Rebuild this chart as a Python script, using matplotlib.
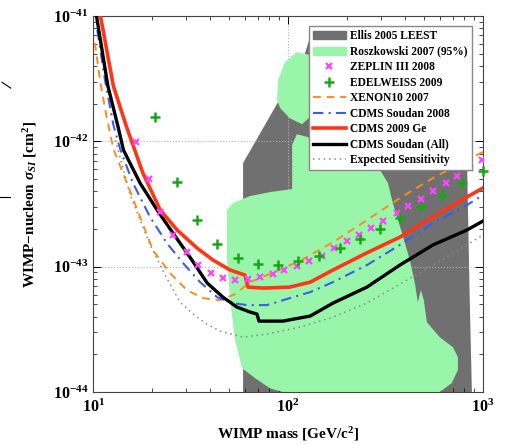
import matplotlib
matplotlib.use("Agg")
import matplotlib.pyplot as plt
from matplotlib.lines import Line2D
from matplotlib.patches import Patch

plt.rcParams['font.family'] = ['Liberation Serif', 'DejaVu Serif']
plt.rcParams['font.weight'] = 'bold'
plt.rcParams['mathtext.fontset'] = 'custom'
plt.rcParams['mathtext.rm'] = 'Liberation Serif:bold'
plt.rcParams['mathtext.it'] = 'Liberation Serif:italic:bold'
plt.rcParams['mathtext.bf'] = 'Liberation Serif:bold'

# Ellis 2005 LEEST region (mass GeV, cross section cm^2)
ellis_m = [58.8, 58.8, 88.9, 115, 133, 809, 828, 857, 879]
ellis_s = [1e-44, 6.71e-43, 2.06e-42, 3.71e-42, 7.7e-42, 7.7e-42, 8.22e-43, 5.41e-44, 1e-44]

# Roszkowski 2007 (95%) - main body and upper lobe
rosz_m = [111, 105, 105, 80.9, 63.8, 52.2, 48.6, 48.6, 50.5, 53.5, 58.1, 67.8, 80.9, 94.2,
          601, 693, 745, 745, 702, 601, 516, 498, 481, 464, 448, 422, 385, 345, 326, 297,
          226, 196, 164, 137, 127]
rosz_s = [1.14e-42, 9.33e-43, 4.16e-43, 3.94e-43, 3.66e-43, 3.22e-43, 2.83e-43, 1.13e-43,
          5.41e-44, 2.59e-44, 1.55e-44, 1.29e-44, 1.07e-44, 1e-44,
          1e-44, 1.18e-44, 1.50e-44, 1.90e-44, 2.28e-44, 2.74e-44, 3.61e-44, 5.41e-44,
          6.50e-44, 5.21e-44, 7.40e-44, 1.13e-43, 1.85e-43, 3.22e-43, 4.65e-43, 5.90e-43,
          7.78e-43, 8.22e-43, 7.78e-43, 8.53e-43, 1.08e-42]
lobe_m = [87.9, 88.9, 96.6, 111, 130, 137, 133, 118, 102, 91]
lobe_s = [2.14e-42, 3.08e-42, 4.30e-42, 5.16e-42, 4.88e-42, 3.08e-42, 1.62e-42, 1.37e-42,
          1.53e-42, 1.85e-42]

# ZEPLIN III 2008
zep_m = [16.6, 19.4, 22.1, 25.7, 30.3, 34.5, 40.3, 46.4, 53.5, 62.4, 71.8, 83.8, 95.3, 111,
         128, 149, 172, 201, 231, 267, 307, 362, 413, 481, 554, 646, 736, 857, 988]
zep_s = [9.86e-43, 5.00e-43, 2.73e-43, 1.79e-43, 1.31e-43, 1.03e-43, 8.89e-44, 8.11e-44,
         7.82e-44, 7.96e-44, 8.26e-44, 8.73e-44, 9.40e-44, 1.01e-43, 1.11e-43, 1.22e-43,
         1.41e-43, 1.60e-43, 1.79e-43, 2.03e-43, 2.31e-43, 2.68e-43, 3.05e-43, 3.47e-43,
         4.01e-43, 4.65e-43, 5.28e-43, 6.12e-43, 7.10e-43]

# EDELWEISS 2009
edw_m = [20.8, 27.0, 34.1, 43.3, 55.4, 70.1, 88.9, 113, 144, 185, 234, 297, 375, 481, 617,
         780, 1000]
edw_s = [1.56e-42, 4.73e-43, 2.35e-43, 1.51e-43, 1.17e-43, 1.05e-43, 1.03e-43, 1.11e-43,
         1.22e-43, 1.41e-43, 1.66e-43, 2.00e-43, 2.44e-43, 2.99e-43, 3.72e-43, 4.65e-43,
         5.79e-43]

# XENON10 2007
xen_m = [10.2, 10.9, 11.7, 12.7, 14.9, 17.4, 20.3, 24.8, 30.3, 36.6, 44.8, 53.5, 63.8, 78.0,
         115, 170, 254, 375, 554, 828, 1000]
xen_s = [6.09e-42, 2.92e-42, 1.59e-42, 8.69e-43, 4.65e-43, 2.49e-43, 1.35e-43, 8.89e-44,
         6.50e-44, 5.61e-44, 5.41e-44, 6.04e-44, 7.53e-44, 8.57e-44, 1.11e-43, 1.57e-43,
         2.35e-43, 3.53e-43, 5.09e-43, 7.10e-43, 8.22e-43]

# CDMS Soudan 2008
cs08_m = [10.5, 11.5, 12.7, 13.8, 16.0, 19.6, 23.9, 28.9, 35.4, 43.3, 52.2, 61.6, 78.0, 102,
          130, 170, 254, 375, 554, 828, 1000]
cs08_s = [7.73e-42, 3.08e-42, 1.35e-42, 8.53e-43, 4.65e-43, 2.49e-43, 1.54e-43, 1.07e-43,
          7.53e-44, 5.71e-44, 5.12e-44, 4.94e-44, 4.94e-44, 5.61e-44, 6.27e-44, 7.53e-44,
          1.03e-43, 1.49e-43, 2.23e-43, 3.10e-43, 3.72e-43]

# CDMS 2009 Ge
ge_m = [10.9, 12.7, 14.8, 18.0, 22.1, 27.0, 34.1, 41.2, 50.5, 60.1, 62.4, 74.5, 102, 130,
        170, 254, 375, 554, 828, 1000]
ge_s = [1e-41, 2.76e-42, 1.32e-42, 5.58e-43, 2.83e-43, 1.96e-43, 1.41e-43, 1.13e-43,
        9.40e-44, 8.57e-44, 6.87e-44, 6.75e-44, 6.87e-44, 7.53e-44, 9.40e-44, 1.29e-43,
        1.72e-43, 2.49e-43, 3.59e-43, 4.24e-43]

# CDMS Soudan (All)
all_m = [10.4, 11.9, 13.4, 14.3, 17.4, 21.3, 25.7, 31.4, 38.5, 46.4, 54.7, 63.8, 69.3, 71.0,
         94.2, 130, 170, 254, 375, 554, 828, 1000]
all_s = [1e-41, 2.76e-42, 1.32e-42, 8.53e-43, 4.65e-43, 2.83e-43, 1.85e-43, 1.19e-43,
         7.40e-44, 5.71e-44, 4.76e-44, 4.35e-44, 4.19e-44, 3.68e-44, 3.68e-44, 4.04e-44,
         5.12e-44, 6.87e-44, 1.03e-43, 1.49e-43, 1.96e-43, 2.31e-43]

# Expected sensitivity
exp_m = [13.0, 15.5, 19.6, 23.4, 27.9, 32.6, 37.5, 44.8, 58.8, 78.0, 115, 170, 254, 375,
         554, 828, 1000]
exp_s = [1.02e-42, 3.72e-43, 1.49e-43, 8.57e-44, 5.21e-44, 4.19e-44, 3.55e-44, 3.06e-44,
         2.74e-44, 2.90e-44, 3.30e-44, 3.96e-44, 5.12e-44, 7.26e-44, 1.03e-43, 1.49e-43,
         1.79e-43]

x_ticks = [10, 100, 1000]
y_ticks = [1e-44, 1e-43, 1e-42, 1e-41]

c_gray = '#707070'
c_green = '#99f5aa'
c_mag = '#ff44ff'
c_edw = '#15a815'
c_xen = '#ff8a1e'
c_blue = '#3a5cf0'
c_red = '#ff3518'
c_dot = '#8a8a8a'

fig = plt.figure(figsize=(5.12, 4.45), dpi=100)
ax = fig.add_axes([0.182, 0.119, 0.761, 0.845])
ax.set_xscale('log')
ax.set_yscale('log')
ax.set_xticks(x_ticks)
ax.set_yticks(y_ticks)
ax.set_xlim(10, 1000)
ax.set_ylim(1e-44, 1e-41)

ax.fill(ellis_m, ellis_s, color=c_gray, lw=0, zorder=1)
ax.fill(rosz_m, rosz_s, color=c_green, lw=0, zorder=2)
ax.fill(lobe_m, lobe_s, color=c_green, lw=0, zorder=2)

ax.grid(True, which='major', ls=':', color='#b0b0b0', lw=0.8, zorder=2.5)

ax.plot(exp_m, exp_s, ls=(0, (1, 2.5)), color=c_dot, lw=1.1, zorder=3)
ax.plot(xen_m, xen_s, ls=(0, (4, 3)), color=c_xen, lw=1.4, zorder=4)
ax.plot(cs08_m, cs08_s, ls=(0, (5, 2.5, 1, 2.5)), color=c_blue, lw=1.5, zorder=4)
ax.plot(all_m, all_s, color='black', lw=2.4, zorder=5)
ax.plot(ge_m, ge_s, color=c_red, lw=2.6, zorder=5)
ax.plot(zep_m, zep_s, ls='none', marker='x', ms=5, mew=1.6, color=c_mag, zorder=6)
ax.plot(edw_m, edw_s, ls='none', marker='+', ms=7, mew=1.8, color=c_edw, zorder=6,
        clip_on=False)

ax.tick_params(which='both', direction='in', top=True, right=True, labelsize=11.5)
ax.tick_params(which='major', length=6, width=0.7)
ax.tick_params(which='minor', length=3, width=0.5)
ax.tick_params(axis='x', pad=5)
for sp in ax.spines.values():
    sp.set_linewidth(0.8)
    sp.set_color('#444444')

ax.set_xlabel('WIMP mass [GeV/c$^2$]', fontsize=11, fontweight='bold', labelpad=6)
ax.set_ylabel('WIMP\u2212nucleon $\\sigma_{SI}$ [cm$^2$]', fontsize=11, fontweight='bold',
              labelpad=10)

handles = [
    Patch(facecolor=c_gray, edgecolor=c_gray),
    Patch(facecolor=c_green, edgecolor=c_green),
    Line2D([], [], ls='none', marker='x', ms=5, mew=1.6, color=c_mag),
    Line2D([], [], ls='none', marker='+', ms=7, mew=1.8, color=c_edw),
    Line2D([], [], ls=(0, (4, 3)), color=c_xen, lw=1.4),
    Line2D([], [], ls=(0, (5, 2.5, 1, 2.5)), color=c_blue, lw=1.5),
    Line2D([], [], color=c_red, lw=2.6),
    Line2D([], [], color='black', lw=2.4),
    Line2D([], [], ls=(0, (1, 2.5)), color=c_dot, lw=1.1),
]
labels = ['Ellis 2005 LEEST', 'Roszkowski 2007 (95%)', 'ZEPLIN III 2008', 'EDELWEISS 2009',
          'XENON10 2007', 'CDMS Soudan 2008', 'CDMS 2009 Ge', 'CDMS Soudan (All)',
          'Expected Sensitivity']
leg = ax.legend(handles, labels, loc='upper right', bbox_to_anchor=(0.986, 0.988),
                labelspacing=0.3, handlelength=2.9, handletextpad=0.35,
                borderpad=0.35, fancybox=False, framealpha=1, edgecolor='#888888',
                prop={'family': 'Liberation Serif', 'weight': 'bold', 'size': 8.3})
leg.set_zorder(10)

# small stray marks at the left edge of the picture
fig.add_artist(Line2D([0.004, 0.021], [0.815, 0.802], color='black', lw=0.8))
fig.add_artist(Line2D([0.0, 0.02], [0.557, 0.557], color='black', lw=0.8))

fig.savefig('out.png', dpi=100)
